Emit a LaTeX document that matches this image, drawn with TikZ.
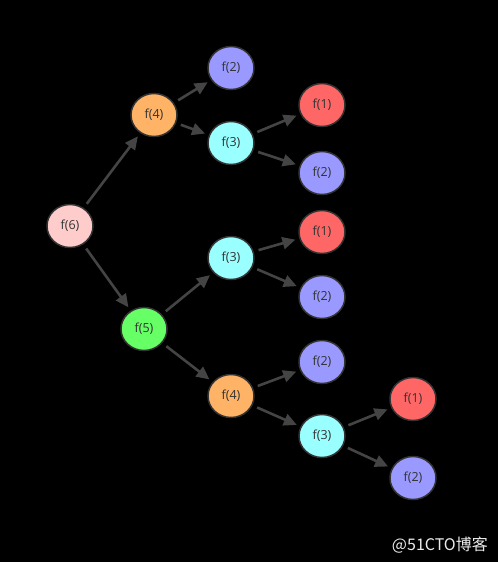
\documentclass[tikz,border=0pt]{standalone}
\usepackage{fontspec}
\setmainfont{Open Sans}
\newfontfamily\cjk{Noto Sans CJK SC}
\usetikzlibrary{shapes.geometric,arrows.meta}
\definecolor{cpink}{HTML}{FFCCCC}
\definecolor{corange}{HTML}{FFB366}
\definecolor{cblue}{HTML}{9999FF}
\definecolor{ccyan}{HTML}{99FFFF}
\definecolor{cred}{HTML}{FF6666}
\definecolor{cgreen}{HTML}{66FF66}
\definecolor{cline}{HTML}{444444}
\definecolor{ctext}{HTML}{333333}
\tikzset{
  fnode/.style={ellipse, draw=ctext, line width=1.5pt, minimum width=46pt, minimum height=43pt, inner sep=0pt, font=\fontsize{12.5}{14}\selectfont, text=ctext},
  conn/.style={draw=cline, line width=2.6pt, -{Triangle[length=13pt,width=12pt]}, shorten >=4pt, shorten <=5pt}
}
\begin{document}
\begin{tikzpicture}[x=1pt,y=-1pt]
\fill[black] (0,0) rectangle (498,562);
\useasboundingbox (0,0) rectangle (498,562);
\node[fnode, fill=cpink] (f6) at (70,226) {f(6)};
\node[fnode, fill=corange] (f4a) at (154,115) {f(4)};
\node[fnode, fill=cblue] (f2a) at (231,68) {f(2)};
\node[fnode, fill=ccyan] (f3a) at (231,143) {f(3)};
\node[fnode, fill=cred] (f1a) at (322,105) {f(1)};
\node[fnode, fill=cblue] (f2b) at (322,173) {f(2)};
\node[fnode, fill=cgreen] (f5) at (144,329) {f(5)};
\node[fnode, fill=ccyan] (f3b) at (231,258) {f(3)};
\node[fnode, fill=cred] (f1b) at (322,232) {f(1)};
\node[fnode, fill=cblue] (f2c) at (322,297) {f(2)};
\node[fnode, fill=corange] (f4b) at (231,396) {f(4)};
\node[fnode, fill=cblue] (f2d) at (322,362) {f(2)};
\node[fnode, fill=ccyan] (f3c) at (322,436) {f(3)};
\node[fnode, fill=cred] (f1c) at (413,399) {f(1)};
\node[fnode, fill=cblue] (f2e) at (413,478) {f(2)};
\draw[conn] (f6) -- (f4a);
\draw[conn] (f6) -- (f5);
\draw[conn] (f4a) -- (f2a);
\draw[conn] (f4a) -- (f3a);
\draw[conn] (f3a) -- (f1a);
\draw[conn] (f3a) -- (f2b);
\draw[conn] (f5) -- (f3b);
\draw[conn] (f5) -- (f4b);
\draw[conn] (f3b) -- (f1b);
\draw[conn] (f3b) -- (f2c);
\draw[conn] (f4b) -- (f2d);
\draw[conn] (f4b) -- (f3c);
\draw[conn] (f3c) -- (f1c);
\draw[conn] (f3c) -- (f2e);
\node[anchor=east, text=white!92!black, font=\cjk\fontsize{16}{18}\selectfont, inner sep=0pt] (wm) at (488,545) {@51CTO博客};
\end{tikzpicture}
\end{document}
